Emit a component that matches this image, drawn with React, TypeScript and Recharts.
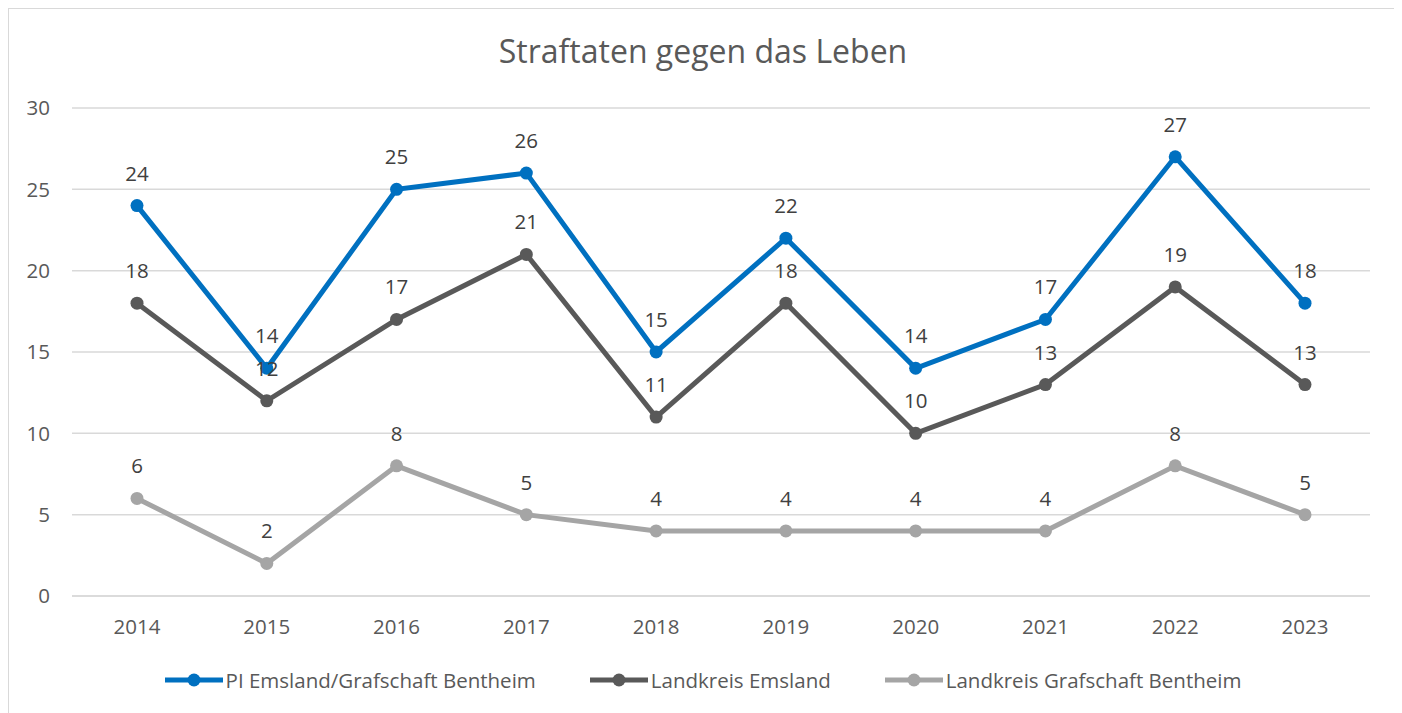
import React from "react";
import { LineChart, Line, XAxis, YAxis, CartesianGrid, LabelList } from "recharts";

const years = ["2014", "2015", "2016", "2017", "2018", "2019", "2020", "2021", "2022", "2023"];
const piEmsland = [24, 14, 25, 26, 15, 22, 14, 17, 27, 18];
const lkEmsland = [18, 12, 17, 21, 11, 18, 10, 13, 19, 13];
const lkBentheim = [6, 2, 8, 5, 4, 4, 4, 4, 8, 5];
const yTicks = [0, 5, 10, 15, 20, 25, 30];

const series = [
  { key: "pi", name: "PI Emsland/Grafschaft Bentheim", color: "#0070C0" },
  { key: "lke", name: "Landkreis Emsland", color: "#595959" },
  { key: "lkb", name: "Landkreis Grafschaft Bentheim", color: "#A5A5A5" },
];

const data = years.map((y, i) => ({
  year: y,
  pi: piEmsland[i],
  lke: lkEmsland[i],
  lkb: lkBentheim[i],
}));

const FONT = "'Open Sans', 'Noto Sans', sans-serif";
const FS = 20.5;

function LegendRow() {
  return (
    <div
      style={{
        position: "absolute",
        top: 657,
        left: 0,
        width: "100%",
        display: "flex",
        justifyContent: "center",
        gap: 54,
        fontFamily: FONT,
        fontSize: FS,
        color: "#595959",
      }}
    >
      {series.map((s) => (
        <div key={s.key} style={{ display: "flex", alignItems: "center" }}>
          <svg width={58} height={20} style={{ marginRight: 3 }}>
            <line x1={0} y1={10} x2={58} y2={10} stroke={s.color} strokeWidth={5} strokeLinecap="round" />
            <circle cx={29} cy={10} r={6.5} fill={s.color} />
          </svg>
          <span>{s.name}</span>
        </div>
      ))}
    </div>
  );
}

export default function App() {
  return (
    <div
      style={{
        position: "relative",
        width: 1388,
        height: 705,
        border: "1px solid #d9d9d9",
        background: "#fff",
      }}
    >
      <div
        style={{
          position: "absolute",
          top: 20,
          width: "100%",
          textAlign: "center",
          fontFamily: FONT,
          fontSize: 32,
          color: "#595959",
        }}
      >
        Straftaten gegen das Leben
      </div>
      <LineChart
        width={1388}
        height={703}
        data={data}
        margin={{ top: 99, right: 27, bottom: 86, left: 0 }}
        style={{ fontFamily: FONT }}
      >
        <CartesianGrid vertical={false} stroke="#d9d9d9" strokeWidth={1.5} />
        <XAxis
          dataKey="year"
          padding={{ left: 65, right: 65 }}
          axisLine={{ stroke: "#d9d9d9", strokeWidth: 1.5 }}
          tickLine={false}
          tickSize={0}
          tickMargin={23}
          tick={{ fontSize: FS, fill: "#595959" }}
        />
        <YAxis
          domain={[0, 30]}
          ticks={yTicks}
          width={63}
          axisLine={false}
          tickLine={false}
          tickSize={0}
          tickMargin={22}
          tick={{ fontSize: FS, fill: "#595959" }}
        />
        {series.map((s) => (
          <Line
            key={s.key}
            dataKey={s.key}
            name={s.name}
            stroke={s.color}
            strokeWidth={5}
            dot={{ r: 6.5, fill: s.color, stroke: s.color, strokeWidth: 0 }}
            activeDot={false}
            isAnimationActive={false}
          >
            <LabelList dataKey={s.key} position="top" offset={25} style={{ fontSize: FS, fill: "#404040" }} />
          </Line>
        ))}
      </LineChart>
      <LegendRow />
    </div>
  );
}
